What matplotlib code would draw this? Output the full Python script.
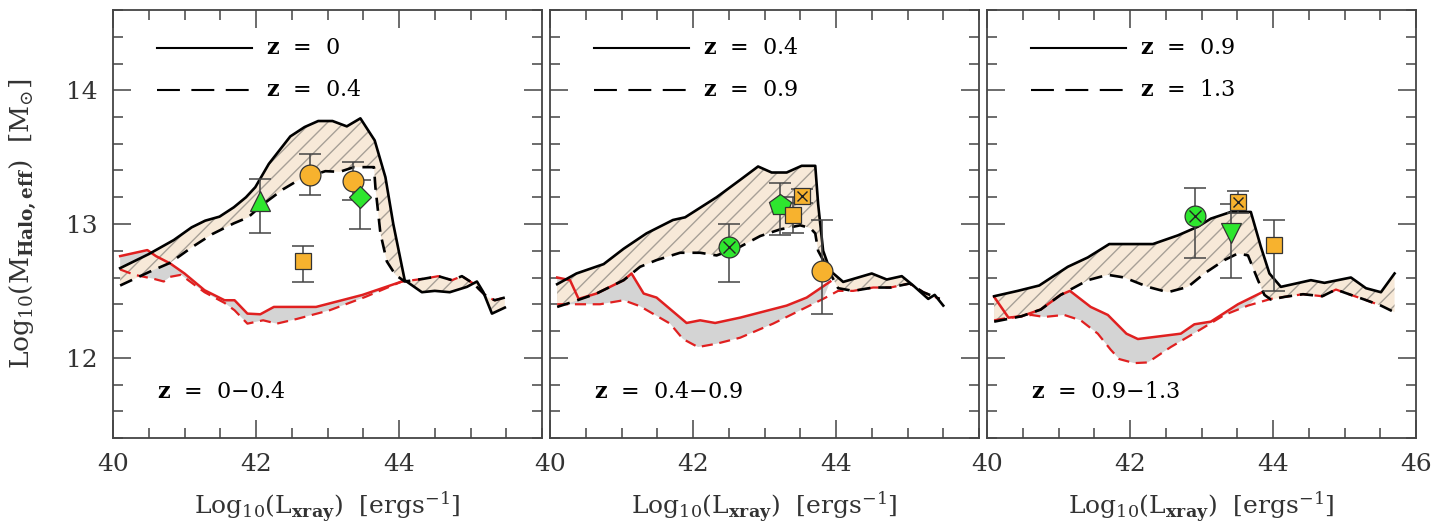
import numpy as np
import matplotlib
matplotlib.use("Agg")
import matplotlib.pyplot as plt
from matplotlib.ticker import MultipleLocator

plt.rcParams['font.family'] = ['DejaVu Serif']
plt.rcParams['mathtext.fontset'] = 'dejavuserif'
plt.rcParams['hatch.linewidth'] = 1.0

# ---- panel 1 : z = 0 - 0.4 ----
p1_solid_x = [40.1, 40.5, 40.85, 41.1, 41.29, 41.49, 41.69, 41.86, 41.99, 42.18, 42.48, 42.68, 42.87,
              43.07, 43.27, 43.46, 43.66, 43.81, 43.92, 44.08, 44.32, 44.50, 44.71, 44.95, 45.09,
              45.18, 45.30, 45.48]
p1_solid_y = [12.67, 12.775, 12.88, 12.975, 13.025, 13.055, 13.125, 13.2, 13.275, 13.45, 13.655, 13.725,
              13.77, 13.77, 13.73, 13.79, 13.625, 13.35, 13.0, 12.58, 12.49, 12.50, 12.49, 12.53,
              12.57, 12.49, 12.33, 12.375]
p1_dash_x = [40.1, 40.5, 40.8, 41.1, 41.39, 41.69, 41.89, 42.08, 42.38, 42.6, 42.97, 43.17, 43.37,
             43.65, 43.67, 43.74, 43.83, 43.95, 44.08, 44.34, 44.55, 44.74, 44.88, 45.04, 45.23,
             45.34, 45.48]
p1_dash_y = [12.54, 12.64, 12.71, 12.825, 12.925, 13.005, 13.05, 13.14, 13.26, 13.33, 13.395, 13.39,
             13.425, 13.425, 13.275, 12.93, 12.72, 12.62, 12.57, 12.59, 12.61, 12.58, 12.61, 12.555,
             12.455, 12.43, 12.45]
p1_red_x = [40.1, 40.48, 40.6, 40.8, 41.0, 41.28, 41.56, 41.7, 41.88, 42.06, 42.25, 42.84, 43.49, 44.04]
p1_red_y = [12.76, 12.805, 12.76, 12.705, 12.63, 12.505, 12.43, 12.43, 12.33, 12.325, 12.38, 12.38,
            12.47, 12.57]
p1_reddash_x = [40.1, 40.3, 40.57, 40.71, 40.8, 40.95, 41.28, 41.56, 41.7, 41.88, 42.1, 42.29, 42.57,
                43.03, 43.53, 44.04, 44.34, 44.55, 44.74, 44.88, 45.04, 45.23, 45.34, 45.48]
p1_reddash_y = [12.66, 12.62, 12.59, 12.57, 12.605, 12.62, 12.49, 12.41, 12.355, 12.255, 12.28, 12.255,
                12.29, 12.355, 12.455, 12.57, 12.59, 12.61, 12.58, 12.61, 12.555, 12.455, 12.43, 12.45]
p1_pts_x = [42.06, 42.75, 43.35, 43.45, 42.66]
p1_pts_y = [13.17, 13.37, 13.32, 13.20, 12.72]
p1_pts_lo = [12.93, 13.22, 13.18, 12.96, 12.57]
p1_pts_hi = [13.34, 13.52, 13.46, 13.33, 12.835]
p1_pts_mk = ['^', 'o', 'o', 'D', 's']
p1_pts_col = ['green', 'orange', 'orange', 'green', 'orange']
p1_pts_cross = [False, False, False, False, False]

# ---- panel 2 : z = 0.4 - 0.9 ----
p2_solid_x = [40.1, 40.37, 40.75, 41.03, 41.35, 41.72, 41.89, 42.33, 42.66, 42.91, 43.1, 43.31, 43.52,
              43.71, 43.75, 43.82, 43.92, 44.10, 44.50, 44.71, 44.92, 45.08, 45.29, 45.38, 45.5]
p2_solid_y = [12.55, 12.63, 12.70, 12.815, 12.93, 13.03, 13.05, 13.2, 13.33, 13.43, 13.385, 13.385,
              13.435, 13.435, 13.15, 12.8, 12.65, 12.567, 12.63, 12.585, 12.61, 12.54, 12.44, 12.47, 12.39]
p2_dash_x = [40.1, 40.33, 40.65, 41.03, 41.26, 41.49, 41.82, 42.1, 42.33, 42.66, 42.94, 43.22, 43.5,
             43.64, 43.71, 43.75, 43.87, 44.03, 44.24, 44.52, 44.76, 45.03, 45.22, 45.45]
p2_dash_y = [12.38, 12.42, 12.48, 12.58, 12.68, 12.73, 12.785, 12.785, 12.765, 12.83, 12.91, 12.96,
             12.99, 12.97, 12.93, 12.8, 12.68, 12.52, 12.50, 12.525, 12.525, 12.555, 12.49, 12.44]
p2_red_x = [40.1, 40.28, 40.4, 40.65, 41.03, 41.14, 41.31, 41.49, 41.91, 42.1, 42.31, 42.66, 43.31,
            43.59, 43.92]
p2_red_y = [12.60, 12.58, 12.44, 12.48, 12.58, 12.63, 12.48, 12.45, 12.26, 12.28, 12.26, 12.30, 12.39,
            12.45, 12.57]
p2_reddash_x = [40.1, 40.37, 40.7, 41.03, 41.26, 41.68, 41.86, 42.07, 42.33, 42.66, 43.12, 43.5, 43.82,
                44.03, 44.24, 44.52, 44.76, 45.03, 45.22, 45.45]
p2_reddash_y = [12.40, 12.40, 12.40, 12.43, 12.385, 12.255, 12.14, 12.08, 12.105, 12.15, 12.255, 12.355,
                12.44, 12.50, 12.50, 12.525, 12.525, 12.555, 12.49, 12.44]
p2_pts_x = [42.51, 43.21, 43.40, 43.52, 43.81]
p2_pts_y = [12.83, 13.14, 13.07, 13.21, 12.65]
p2_pts_lo = [12.57, 12.915, 12.93, 13.16, 12.33]
p2_pts_hi = [13.0, 13.31, 13.2, 13.26, 13.03]
p2_pts_mk = ['o', 'p', 's', 's', 'o']
p2_pts_col = ['green', 'green', 'orange', 'orange', 'orange']
p2_pts_cross = [True, False, False, True, False]

# ---- panel 3 : z = 0.9 - 1.3 ----
p3_solid_x = [40.1, 40.43, 40.73, 41.13, 41.41, 41.71, 42.32, 42.67, 42.95, 43.13, 43.41, 43.69, 43.83,
              43.95, 44.11, 44.53, 44.72, 45.09, 45.30, 45.51, 45.70]
p3_solid_y = [12.46, 12.50, 12.54, 12.68, 12.75, 12.85, 12.85, 12.915, 12.98, 13.04, 13.09, 13.09, 12.83,
              12.63, 12.53, 12.58, 12.56, 12.60, 12.52, 12.49, 12.63]
p3_dash_x = [40.1, 40.48, 40.75, 41.03, 41.41, 41.69, 41.92, 42.25, 42.53, 42.81, 43.04, 43.32, 43.51,
             43.65, 43.79, 43.88, 43.97, 44.16, 44.42, 44.69, 44.88, 45.09, 45.28, 45.51, 45.70]
p3_dash_y = [12.27, 12.31, 12.36, 12.47, 12.58, 12.62, 12.60, 12.53, 12.49, 12.53, 12.63, 12.73, 12.78,
             12.765, 12.58, 12.47, 12.435, 12.455, 12.475, 12.46, 12.51, 12.47, 12.435, 12.39, 12.34]
p3_red_x = [40.1, 40.3, 40.48, 40.75, 41.03, 41.16, 41.45, 41.69, 41.95, 42.11, 42.71, 42.9, 43.13,
            43.51, 43.85]
p3_red_y = [12.455, 12.30, 12.31, 12.36, 12.47, 12.50, 12.38, 12.32, 12.18, 12.14, 12.18, 12.25, 12.27,
            12.40, 12.49]
p3_reddash_x = [40.1, 40.2, 40.62, 40.80, 41.08, 41.31, 41.55, 41.73, 41.85, 42.06, 42.25, 42.57, 42.95,
                43.32, 43.65, 43.97, 44.16, 44.42, 44.69, 44.88, 45.09, 45.28, 45.51]
p3_reddash_y = [12.28, 12.29, 12.32, 12.305, 12.32, 12.28, 12.18, 12.06, 11.99, 11.96, 11.965, 12.08,
                12.20, 12.32, 12.39, 12.44, 12.455, 12.475, 12.46, 12.51, 12.47, 12.435, 12.39]
p3_pts_x = [42.91, 43.51, 43.41, 44.02]
p3_pts_y = [13.06, 13.165, 12.93, 12.84]
p3_pts_lo = [12.745, 13.08, 12.60, 12.50]
p3_pts_hi = [13.27, 13.245, 13.15, 13.03]
p3_pts_mk = ['o', 's', 'v', 's']
p3_pts_col = ['green', 'orange', 'green', 'orange']
p3_pts_cross = [True, True, False, False]

legend_solid = ["0", "0.4", "0.9"]
legend_dash = ["0.4", "0.9", "1.3"]
panel_labels = ["0\u22120.4", "0.4\u22120.9", "0.9\u22121.3"]

COLORS = {'orange': '#f7b22e', 'green': '#2ee62e'}
MSIZE = {'o': 15, 's': 11, '^': 14, 'v': 14, 'D': 11, 'p': 16}
RED = '#e02020'


def draw_panel(ax, d, i):
    sx, sy, dx, dy, rx, ry, rdx, rdy, px, py, plo, phi, pmk, pcol, pcr = d

    # grey band between the red curves (only where both exist)
    rdx_a, rdy_a = np.array(rdx), np.array(rdy)
    keep = rdx_a <= max(rx) + 1e-6
    ax.fill(list(rx) + list(rdx_a[keep][::-1]), list(ry) + list(rdy_a[keep][::-1]),
            facecolor='#d4d4d4', edgecolor='none', zorder=1)
    # hatched band between the black curves
    ax.fill(list(sx) + list(dx[::-1]), list(sy) + list(dy[::-1]),
            facecolor='#f7e9d8', edgecolor='#a7a097', hatch='//', linewidth=0, zorder=2)

    ax.plot(rdx, rdy, color=RED, lw=1.6, dashes=(5, 3), zorder=3)
    ax.plot(rx, ry, color=RED, lw=1.8, zorder=3)
    ax.plot(dx, dy, color='k', lw=1.9, dashes=(5, 3), zorder=4)
    ax.plot(sx, sy, color='k', lw=1.9, zorder=4)

    for x, y, lo, hi, mk, c, cr in zip(px, py, plo, phi, pmk, pcol, pcr):
        ax.errorbar([x], [y], yerr=[[y - lo], [hi - y]], fmt='none', ecolor='#444444',
                    elinewidth=1.1, capsize=8, capthick=1.1, zorder=5)
        ax.plot([x], [y], marker=mk, ms=MSIZE[mk], mfc=COLORS[c], mec='#333333', mew=0.9,
                ls='none', zorder=6)
        if cr:
            ax.plot([x], [y], marker='x', ms=MSIZE[mk] * 0.62, mec='#222222', mew=1.0,
                    ls='none', zorder=7)

    # in-panel legend
    ax.plot([0.103, 0.324], [0.911, 0.911], transform=ax.transAxes, color='k', lw=1.5)
    ax.plot([0.103, 0.324], [0.813, 0.813], transform=ax.transAxes, color='k', lw=1.5,
            dashes=(11, 5.5))
    ax.text(0.356, 0.911, r"$\mathbf{z}$  =  " + legend_solid[i], transform=ax.transAxes,
            fontsize=16, va='center', ha='left')
    ax.text(0.356, 0.813, r"$\mathbf{z}$  =  " + legend_dash[i], transform=ax.transAxes,
            fontsize=16, va='center', ha='left')
    ax.text(0.103, 0.107, r"$\mathbf{z}$  =  " + panel_labels[i], transform=ax.transAxes,
            fontsize=16, va='center', ha='left')

    ax.set_xlim(40, 46)
    ax.set_ylim(11.4, 14.6)
    ax.xaxis.set_major_locator(MultipleLocator(2))
    ax.xaxis.set_minor_locator(MultipleLocator(0.5))
    ax.yaxis.set_major_locator(MultipleLocator(1))
    ax.yaxis.set_minor_locator(MultipleLocator(0.2))
    ax.tick_params(which='both', direction='in', top=True, right=True, colors='#444444',
                   labelcolor='#333333', labelsize=18, pad=11)
    ax.tick_params(which='major', length=13, width=1.1)
    ax.tick_params(which='minor', length=7, width=1.1)
    for sp in ax.spines.values():
        sp.set_color('#444444')
        sp.set_linewidth(1.3)
    ax.set_xlabel(r"Log$_{10}$(L$_{\mathbf{xray}}$)  [ergs$^{-1}$]", fontsize=18, color='#333333',
                  labelpad=9)


fig = plt.figure(figsize=(14.34, 5.23), dpi=100)
left0, width, gap = 113 / 1434, 429 / 1434, 8 / 1434
bottom, height = 85 / 523, 428 / 523

panels = [
    (p1_solid_x, p1_solid_y, p1_dash_x, p1_dash_y, p1_red_x, p1_red_y, p1_reddash_x, p1_reddash_y,
     p1_pts_x, p1_pts_y, p1_pts_lo, p1_pts_hi, p1_pts_mk, p1_pts_col, p1_pts_cross),
    (p2_solid_x, p2_solid_y, p2_dash_x, p2_dash_y, p2_red_x, p2_red_y, p2_reddash_x, p2_reddash_y,
     p2_pts_x, p2_pts_y, p2_pts_lo, p2_pts_hi, p2_pts_mk, p2_pts_col, p2_pts_cross),
    (p3_solid_x, p3_solid_y, p3_dash_x, p3_dash_y, p3_red_x, p3_red_y, p3_reddash_x, p3_reddash_y,
     p3_pts_x, p3_pts_y, p3_pts_lo, p3_pts_hi, p3_pts_mk, p3_pts_col, p3_pts_cross),
]

axes = []
for i, d in enumerate(panels):
    ax = fig.add_axes([left0 + i * (width + gap), bottom, width, height])
    draw_panel(ax, d, i)
    axes.append(ax)

for ax in axes[1:]:
    ax.tick_params(labelleft=False)
for ax in axes[:2]:
    ax.set_xticks([40, 42, 44])

axes[0].set_ylabel(r"Log$_{10}$(M$_{\mathbf{Halo,eff}}$)  [M$_{\odot}$]", fontsize=19,
                   color='#333333', labelpad=20)

fig.savefig("out.png", dpi=100)
